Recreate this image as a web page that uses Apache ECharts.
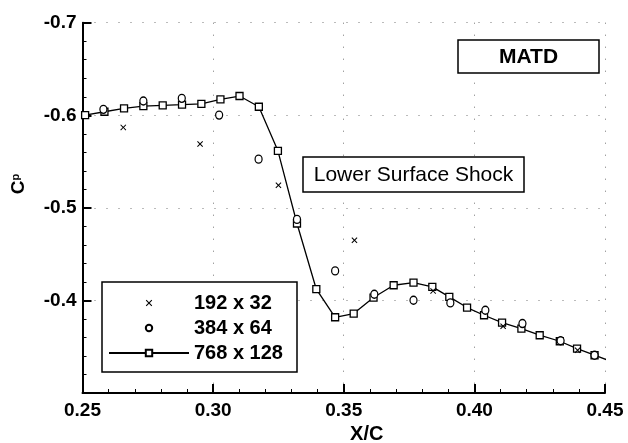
<!DOCTYPE html>
<html>
<head>
<meta charset="utf-8">
<script src="https://cdn.jsdelivr.net/npm/echarts@6/dist/echarts.min.js"></script>
<style>html,body{margin:0;padding:0;background:#fff;}#c{width:628px;height:443px;}</style>
</head>
<body>
<div id="c"></div>
<script>
// ---- data ----
const seriesNames = ['192 x 32', '384 x 64', '768 x 128'];
const x192 = [0.2656, 0.2950, 0.3250, 0.3541, 0.3842, 0.4110, 0.4395];
const cp192 = [-0.5869, -0.5689, -0.5245, -0.4651, -0.4103, -0.3721, -0.3462];
const x384 = [0.2580, 0.2733, 0.2880, 0.3023, 0.3174, 0.3321, 0.3467, 0.3617, 0.3767, 0.3908, 0.4042, 0.4184, 0.4330, 0.4460];
const cp384 = [-0.6064, -0.6154, -0.6183, -0.6002, -0.5526, -0.4875, -0.4319, -0.4067, -0.4002, -0.3973, -0.3894, -0.3750, -0.3564, -0.3408];
const x768 = [0.2510, 0.2584, 0.2659, 0.2733, 0.2807, 0.2881, 0.2955, 0.3028, 0.3101, 0.3175, 0.3248, 0.3321, 0.3395, 0.3467, 0.3538, 0.3614, 0.3691, 0.3767, 0.3839, 0.3904, 0.3972, 0.4037, 0.4106, 0.4180, 0.4250, 0.4327, 0.4393, 0.4460, 0.4533];
const cp768 = [-0.6002, -0.6038, -0.6075, -0.6099, -0.6107, -0.6114, -0.6124, -0.6172, -0.6208, -0.6092, -0.5616, -0.4831, -0.4121, -0.3818, -0.3858, -0.4031, -0.4164, -0.4193, -0.4146, -0.4038, -0.3923, -0.3840, -0.3761, -0.3696, -0.3624, -0.3559, -0.3480, -0.3408, -0.3330];
const xTicks = {min: 0.25, max: 0.45, interval: 0.05};
const yTicks = {min: -0.7, max: -0.3, interval: 0.1};
const annotations = ['MATD', 'Lower Surface Shock'];
const xTitle = 'X/C';

// ---- chart ----
const FF = '"Liberation Sans", Arial, Helvetica, sans-serif';
const zip = (a, b) => a.map((v, i) => [v, b[i]]);
const xPath = 'path://M0,1.2 L1.2,0 L5,3.8 L8.8,0 L10,1.2 L6.2,5 L10,8.8 L8.8,10 L5,6.2 L1.2,10 L0,8.8 L3.8,5Z';

const chart = echarts.init(document.getElementById('c'), null, {renderer: 'canvas'});
chart.setOption({
  animation: false,
  backgroundColor: '#fff',
  grid: {left: 82.5, right: 23, top: 22.7, bottom: 50, containLabel: false, outerBoundsMode: 'none'},
  xAxis: {
    type: 'value', min: xTicks.min, max: xTicks.max, interval: xTicks.interval,
    name: xTitle, nameLocation: 'middle', nameGap: 30,
    nameTextStyle: {fontFamily: FF, fontSize: 20, fontWeight: 'bold', color: '#000', lineHeight: 20, padding: [0, 0, 0, 46]},
    axisLine: {show: true, onZero: false, lineStyle: {color: '#000', width: 2}},
    axisTick: {show: true, inside: true, length: 9, lineStyle: {color: '#000', width: 2}},
    minorTick: {show: true, splitNumber: 5, length: 4, lineStyle: {color: '#000', width: 1}},
    axisLabel: {fontFamily: FF, fontSize: 19, fontWeight: 'bold', color: '#000', margin: 8,
      formatter: v => v.toFixed(2)},
    splitLine: {show: true, lineStyle: {color: '#777', width: 1, type: [1, 11]}}
  },
  yAxis: {
    type: 'value', inverse: true, min: yTicks.min, max: yTicks.max, interval: yTicks.interval,
    axisLine: {show: true, onZero: false, lineStyle: {color: '#000', width: 2}},
    axisTick: {show: true, inside: true, length: 9, lineStyle: {color: '#000', width: 2}},
    minorTick: {show: true, splitNumber: 5, length: 4, lineStyle: {color: '#000', width: 1}},
    axisLabel: {fontFamily: FF, fontSize: 19, fontWeight: 'bold', color: '#000', margin: 6,
      formatter: v => (Math.abs(v - yTicks.max) < 1e-6 ? '' : v.toFixed(1))},
    splitLine: {show: true, lineStyle: {color: '#777', width: 1, type: [1, 11]}}
  },
  legend: {
    show: true, orient: 'vertical', left: 108, top: 293, padding: 0,
    itemWidth: 80, itemHeight: 8, itemGap: 5, selectedMode: false,
    textStyle: {fontFamily: FF, fontSize: 20, fontWeight: 'bold', color: '#000', lineHeight: 20},
    data: seriesNames
  },
  graphic: [
    {type: 'rect', z: 3, shape: {x: 102, y: 282, width: 195, height: 90},
      style: {fill: '#fff', stroke: '#000', lineWidth: 1.5}},
    {type: 'rect', z: 3, shape: {x: 458, y: 40, width: 141, height: 33},
      style: {fill: '#fff', stroke: '#000', lineWidth: 1.5}},
    {type: 'text', z: 4, x: 528.5, y: 57,
      style: {text: annotations[0], fontFamily: FF, fontSize: 21, fontWeight: 'bold', fill: '#000', align: 'center', verticalAlign: 'middle'}},
    {type: 'rect', z: 3, shape: {x: 303, y: 157, width: 221, height: 35},
      style: {fill: '#fff', stroke: '#000', lineWidth: 1.5}},
    {type: 'text', z: 4, x: 413.5, y: 175,
      style: {text: annotations[1], fontFamily: FF, fontSize: 21, fill: '#000', align: 'center', verticalAlign: 'middle'}},
    {type: 'text', z: 4, x: 19, y: 184, rotation: Math.PI / 2,
      style: {text: '{c|C}{p|p}', align: 'center', verticalAlign: 'middle',
        rich: {
          c: {fontFamily: FF, fontSize: 19, fontWeight: 'bold', fill: '#000', lineHeight: 18},
          p: {fontFamily: FF, fontSize: 11, fontWeight: 'bold', fill: '#000', verticalAlign: 'top', lineHeight: 18}
        }}}
  ],
  series: [
    {
      name: seriesNames[0], type: 'line', data: zip(x192, cp192), clip: true,
      symbol: xPath, symbolSize: 6,
      lineStyle: {opacity: 0, width: 0},
      itemStyle: {color: '#000', borderWidth: 0},
      z: 3
    },
    {
      name: seriesNames[1], type: 'line', data: zip(x384, cp384), clip: true,
      symbol: 'circle', symbolSize: [7, 8],
      lineStyle: {opacity: 0, width: 0},
      itemStyle: {color: '#fff', borderColor: '#000', borderWidth: 1.3},
      z: 3
    },
    {
      name: seriesNames[2], type: 'line', data: zip(x768, cp768), clip: true,
      symbol: 'rect', symbolSize: 7,
      lineStyle: {color: '#000', width: 1.3},
      itemStyle: {color: '#fff', borderColor: '#000', borderWidth: 1.3},
      z: 2
    }
  ]
});
</script>
</body>
</html>
